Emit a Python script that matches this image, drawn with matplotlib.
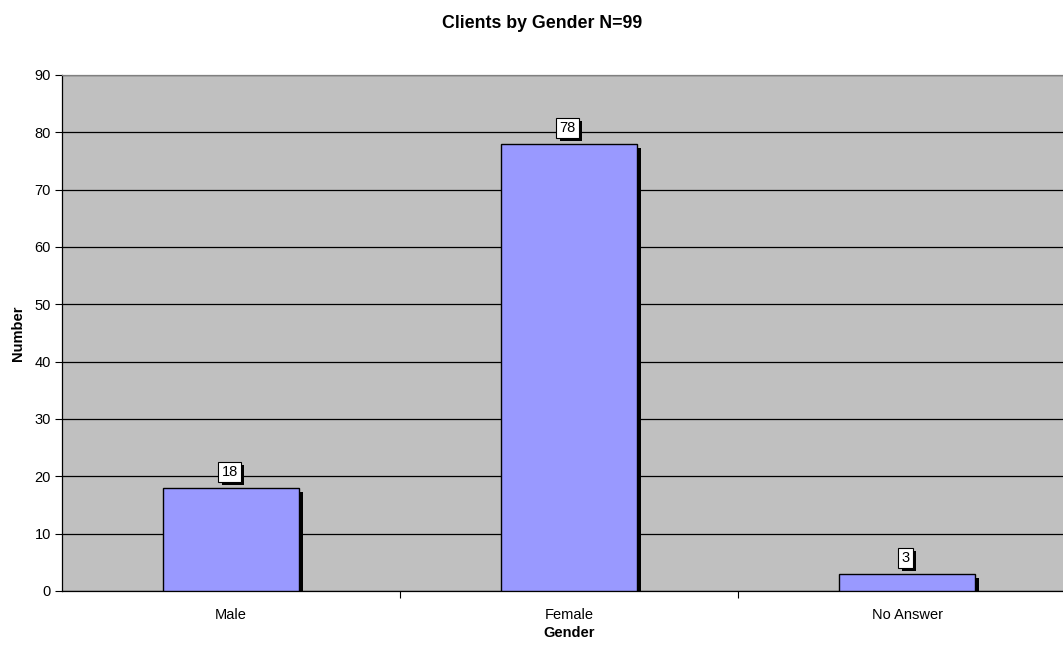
import matplotlib

matplotlib.use("Agg")
import matplotlib.pyplot as plt
import matplotlib.patheffects as pe

categories = ["Male", "Female", "No Answer"]
counts = [18, 78, 3]
y_ticks = list(range(0, 91, 10))

plt.rcParams['font.family'] = ['Liberation Sans', 'DejaVu Sans']

fig = plt.figure(figsize=(10.63, 6.46), dpi=100)
# plot area runs slightly past the right edge of the figure
ax = fig.add_axes([62 / 1063, 55 / 646, 1014 / 1063, 516 / 646])
ax.set_facecolor('#C0C0C0')

x = list(range(len(categories)))
shadow = [pe.withSimplePatchShadow(offset=(3, -3), shadow_rgbFace='black', alpha=1)]
ax.bar(x, counts, width=0.4, color='#9999FF', edgecolor='black', linewidth=1,
       zorder=3, path_effects=shadow)

# value labels in white boxes with a drop shadow
for xi, v in zip(x, counts):
    t = ax.annotate(str(v), xy=(xi, v), xytext=(-1, 6.5), textcoords='offset points',
                    ha='center', va='bottom', fontsize=10.5, zorder=5,
                    bbox=dict(boxstyle='square,pad=0.22', fc='white', ec='black', lw=0.8))
    t.get_bbox_patch().set_path_effects(
        [pe.withSimplePatchShadow(offset=(2.5, -2.5), shadow_rgbFace='black', alpha=1)])

ax.set_xlim(-0.5, len(categories) - 0.5)
ax.set_ylim(0, 90)
ax.set_yticks(y_ticks)
ax.yaxis.grid(True, color='black', linewidth=0.9, zorder=1)
ax.set_axisbelow(True)

ax.set_xticks(x)
ax.set_xticklabels(categories)
ax.set_xticks([0.5, 1.5], minor=True)
ax.tick_params(axis='x', which='major', length=0, pad=12, labelsize=10.5)
ax.tick_params(axis='x', which='minor', length=5, width=0.8, direction='out')
ax.tick_params(axis='y', length=5, width=0.8, direction='out', labelsize=10.5, pad=3)

ax.spines['top'].set_color('#808080')
ax.spines['right'].set_visible(False)
ax.spines['left'].set_color('black')
ax.spines['bottom'].set_color('black')
for s in ax.spines.values():
    s.set_linewidth(0.9)

ax.set_xlabel('Gender', fontsize=10.5, fontweight='bold', labelpad=3)
ax.set_ylabel('Number', fontsize=10.5, fontweight='bold', labelpad=7)
fig.text(542 / 1063, 1 - 24 / 646, 'Clients by Gender N=99', ha='center', va='center',
         fontsize=12.8, fontweight='bold')

fig.savefig('out.png', dpi=100)
